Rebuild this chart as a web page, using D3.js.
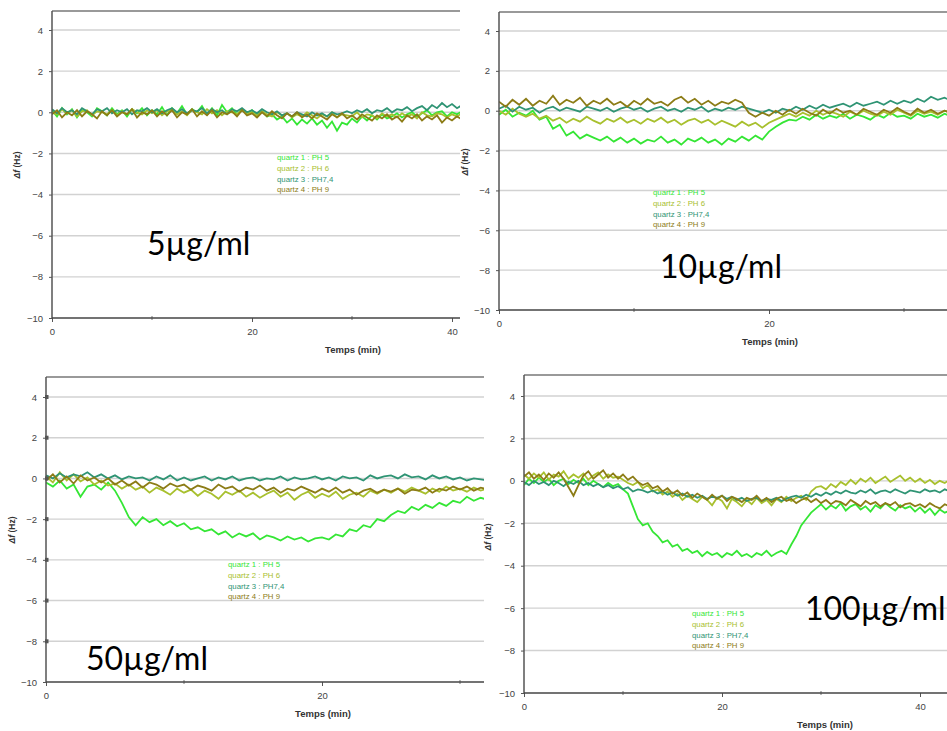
<!DOCTYPE html>
<html><head><meta charset="utf-8">
<script src="https://cdn.jsdelivr.net/npm/d3@7"></script>
<style>body{margin:0;background:#fff;} svg{display:block;}</style>
</head><body>
<svg id="chart" width="947" height="731"></svg>
<script>
// ---------- data ----------
const sampleStep = 0.5; // minutes between stored samples
const quartzLabels = ["quartz 1 : PH 5", "quartz 2 : PH 6", "quartz 3 : PH7,4", "quartz 4 : PH 9"];
const seriesColors = ["#35e635", "#a8c02e", "#2f9474", "#8c7c16"];
const yTicks = [4, 2, 0, -2, -4, -6, -8, -10];
const gridValues = [4, 2, 0, -2, -4, -6, -8];
const xMajorTicks = [0, 20, 40];
const xMinorTicks = [10, 30];
const concentrations = ["5µg/ml", "10µg/ml", "50µg/ml", "100µg/ml"];
const xTitle = "Temps (min)";

// Panel 1 : 5 µg/ml
const p1q1 = [0.1,-0.2,0.2,-0.1,0.15,-0.25,0.1,0,-0.2,0.2, 0.05,-0.15,0.2,-0.1,0.1,-0.2,0.15,-0.05,0.2,-0.15,
0.1,-0.1,0.25,-0.15,0.2,-0.05,0.3,-0.1,0.15,0, 0.3,-0.1,0.2,-0.15,0.35,0,0.2,-0.1,0.15,-0.05,
0.1,-0.15,0.05,-0.2,-0.1,-0.35,-0.2,-0.5,-0.3,-0.6, -0.35,-0.55,-0.3,-0.6,-0.4,-0.75,-0.45,-0.9,-0.5,-0.6,
-0.3,-0.5,-0.2,-0.4,-0.15,-0.35,-0.1,-0.3,-0.2,-0.05, -0.25,-0.1,0,-0.2,-0.05,0.1,-0.15,0,0.05,-0.2,
0,-0.1,0.05];
const p1q2 = [0,-0.1,0.15,-0.05,0.1,-0.2,0.05,0.1,-0.15,0.05, 0,-0.1,0.1,-0.15,0.05,-0.1,0.15,0,-0.1,0.1,
-0.05,0.1,-0.15,0.05,0.1,-0.1,0.05,-0.15,0.1,0, -0.1,0.15,-0.05,0.1,-0.15,0.05,0,-0.1,0.1,-0.05,
0,-0.15,0.05,-0.1,-0.2,0,-0.15,-0.05,-0.25,-0.1, -0.2,0,-0.15,-0.3,-0.1,-0.2,0,-0.25,-0.1,-0.15,
-0.2,0,-0.25,-0.1,-0.15,-0.3,-0.05,-0.2,-0.1,-0.25, -0.05,-0.2,-0.1,-0.3,0,-0.15,-0.2,-0.05,-0.1,-0.25,
-0.1,-0.2,-0.05];
const p1q3 = [0.15,-0.05,0.2,0,0.1,-0.1,0.2,0.05,-0.1,0.15, 0.05,0.2,-0.05,0.1,0,0.15,-0.1,0.1,0.05,0.2,
0,0.15,-0.05,0.1,0.2,0,0.15,-0.05,0.1,0.05, 0.2,-0.05,0.15,0,0.1,-0.1,0.15,0.05,0.2,0,
0.1,-0.05,0.15,0,-0.1,0.05,-0.15,-0.05,-0.2,0, -0.1,-0.2,0,-0.15,-0.05,-0.2,0,-0.1,-0.05,0.05,
-0.05,0.1,0,0.15,-0.05,0.1,0.05,0.2,0,0.15, 0.1,0.25,0.05,0.2,0.3,0.1,0.35,0.2,0.45,0.25,
0.4,0.2,0.35];
const p1q4 = [-0.1,0.1,-0.25,0,-0.15,0.1,-0.2,0.05,-0.1,-0.3, 0.05,-0.15,0.1,-0.2,0,-0.1,0.15,-0.25,0,-0.1,
0.1,-0.2,0.05,-0.15,0.1,-0.25,0,-0.1,0.15,-0.2, 0.05,-0.15,0.1,-0.25,0,-0.1,0.05,-0.2,0.1,-0.15,
-0.05,-0.25,0,-0.2,0.05,-0.15,-0.3,-0.05,-0.2,0, -0.25,-0.1,-0.3,-0.05,-0.2,-0.35,-0.1,-0.25,-0.05,-0.3,
-0.15,-0.35,-0.1,-0.25,-0.4,-0.15,-0.3,-0.1,-0.35,-0.2, -0.45,-0.15,-0.3,-0.1,-0.4,-0.2,-0.35,-0.15,-0.5,-0.25,
-0.4,-0.2,-0.35];

// Panel 2 : 10 µg/ml
const p2q1 = [-0.2,0.05,-0.3,-0.1,-0.25,0,-0.45,-0.3,-0.9,-0.7, -1.25,-1.05,-1.4,-1.2,-1.35,-1.5,-1.3,-1.55,-1.35,-1.6,
-1.4,-1.65,-1.45,-1.55,-1.3,-1.6,-1.45,-1.7,-1.4,-1.55, -1.35,-1.6,-1.45,-1.7,-1.4,-1.55,-1.3,-1.5,-1.25,-1.45,
-1.05,-0.8,-0.6,-0.45,-0.5,-0.3,-0.45,-0.2,-0.4,-0.25, -0.35,-0.15,-0.4,-0.2,-0.3,-0.45,-0.2,-0.35,-0.1,-0.3,
-0.25,-0.4,-0.15,-0.3,-0.2,-0.35,-0.15,-0.3];
const p2q2 = [0,-0.2,0.1,-0.15,-0.3,-0.15,-0.4,-0.25,-0.5,-0.35, -0.6,-0.4,-0.55,-0.3,-0.5,-0.65,-0.4,-0.55,-0.35,-0.6,
-0.45,-0.65,-0.4,-0.55,-0.35,-0.6,-0.45,-0.7,-0.5,-0.4, -0.6,-0.45,-0.7,-0.5,-0.65,-0.8,-0.55,-0.75,-0.6,-0.85,
-0.6,-0.45,-0.3,-0.15,-0.3,-0.1,-0.25,0,-0.2,-0.05, -0.15,-0.3,-0.05,-0.2,0,-0.15,-0.25,-0.05,-0.2,0.05,
-0.1,-0.25,0,-0.15,-0.05,-0.2,0,-0.1];
const p2q3 = [0.1,0.25,-0.05,0.2,0.05,0.15,-0.1,0.1,0.2,0, 0.15,0.05,-0.05,0.2,0.1,0,0.15,-0.05,0.1,0.2,
0.05,0.15,-0.05,0.1,0.2,0,0.1,-0.05,0.15,0.05, 0.2,-0.05,0.1,0,0.15,0.05,0.2,0.1,0,-0.1,
0.05,-0.1,0.1,0,0.2,0.05,0.25,0.1,0.3,0.15, 0.25,0.35,0.2,0.4,0.25,0.35,0.45,0.3,0.5,0.35,
0.5,0.4,0.6,0.45,0.7,0.55,0.65,0.5];
const p2q4 = [0.45,0.2,0.55,0.3,0.6,0.25,0.5,0.35,0.75,0.3, 0.55,0.4,0.65,0.25,0.5,0.35,0.6,0.3,0.45,0.2,
0.5,0.3,0.6,0.35,0.45,0.25,0.55,0.7,0.4,0.6, 0.3,0.5,0.25,0.45,0.35,0.55,0.4,-0.1,-0.3,-0.1,
-0.25,0,-0.2,0.05,-0.15,0.1,-0.1,-0.25,0.05,-0.15, 0.1,-0.1,0,-0.2,0.1,-0.05,-0.2,0.05,-0.1,0.15,
-0.05,-0.2,0.1,-0.1,0.05,-0.15,0,-0.1];

// Panel 3 : 50 µg/ml
const p3q1 = [-0.2,-0.4,-0.1,-0.5,-0.3,-0.9,-0.4,-0.3,-0.55,-0.2,
-0.6,-1.2,-1.9,-2.3,-1.9,-2.15,-2.0,-2.3,-2.1,-2.35,
-2.2,-2.5,-2.4,-2.6,-2.5,-2.75,-2.6,-2.9,-2.7,-2.85,
-2.7,-3.0,-2.8,-2.9,-3.05,-2.85,-3.0,-2.9,-3.1,-2.95,
-2.9,-3.0,-2.75,-2.85,-2.5,-2.6,-2.3,-2.4,-2.0,-2.1,
-1.8,-1.6,-1.7,-1.4,-1.55,-1.3,-1.45,-1.2,-1.35,-1.1,
-1.2,-0.9,-1.1,-0.95,-1.05];
const p3q2 = [0.1,-0.2,0.3,-0.1,0.2,-0.15,0.05,-0.3,-0.1,-0.35,
-0.25,-0.5,-0.3,-0.55,-0.4,-0.7,-0.45,-0.6,-0.8,-0.5,
-0.7,-0.55,-0.85,-0.6,-0.75,-1.0,-0.65,-0.8,-0.6,-0.9,
-0.7,-0.95,-0.75,-0.6,-0.9,-0.7,-1.05,-0.8,-0.65,-0.95,
-0.75,-0.9,-0.65,-1.0,-0.8,-0.7,-0.9,-0.6,-0.75,-0.55,
-0.7,-0.5,-0.65,-0.45,-0.6,-0.75,-0.5,-0.65,-0.4,-0.6,
-0.5,-0.65,-0.45,-0.6,-0.5];
const p3q3 = [0.15,0,0.25,0.05,0.2,0.1,0.3,0.05,0.2,0,
0.15,-0.05,0.1,0,0.05,-0.1,0.1,-0.05,0.15,-0.1,
0.05,-0.1,0,0.1,-0.1,0.05,-0.05,0.1,-0.1,0,
0.05,-0.1,0,-0.05,0.1,-0.1,0.05,-0.05,0,0.1,
-0.05,0.05,-0.1,0.1,0,0.05,-0.1,0.15,0,0.1,
0.15,0,0.2,0.05,0.1,-0.05,0.15,0,0.1,-0.05,
0.05,-0.1,0,-0.05,-0.1];
const p3q4 = [-0.1,0.2,-0.2,0.1,-0.25,0.15,-0.1,0.05,-0.2,0,
-0.3,-0.1,-0.35,-0.15,-0.45,-0.2,-0.3,-0.5,-0.25,-0.4,
-0.3,-0.55,-0.35,-0.45,-0.6,-0.3,-0.5,-0.4,-0.65,-0.45,
-0.55,-0.35,-0.6,-0.45,-0.7,-0.5,-0.6,-0.4,-0.55,-0.7,
-0.5,-0.65,-0.45,-0.7,-0.55,-0.8,-0.6,-0.5,-0.7,-0.55,
-0.65,-0.5,-0.75,-0.55,-0.6,-0.45,-0.7,-0.5,-0.6,-0.4,
-0.55,-0.4,-0.6,-0.45,-0.55];

// Panel 4 : 100 µg/ml
const p4q1 = [-0.2,0.1,-0.1,0.15,-0.05,0.1,-0.2,0,0.1,-0.15, 0.05,-0.1,0.1,-0.2,0,-0.15,-0.3,-0.1,-0.25,-0.15,
-0.4,-0.6,-1.2,-1.8,-2.1,-2.0,-2.4,-2.6,-2.9,-2.8, -3.1,-3.0,-3.3,-3.2,-3.4,-3.3,-3.55,-3.35,-3.5,-3.4,
-3.6,-3.4,-3.5,-3.3,-3.55,-3.45,-3.6,-3.4,-3.5,-3.3, -3.55,-3.4,-3.3,-3.45,-3.0,-2.6,-2.1,-1.8,-1.5,-1.3,
-1.1,-1.35,-1.15,-1.3,-1.05,-1.4,-1.2,-1.1,-1.35,-1.2, -1.45,-1.15,-1.3,-1.05,-1.25,-1.4,-1.15,-1.3,-1.2,-1.45,
-1.25,-1.5,-1.3,-1.6,-1.35,-1.5,-1.4];
const p4q2 = [0.3,0.1,0.35,0.15,0.4,0.05,0.3,0.2,0.45,0.1, 0.3,0.15,0.35,0.05,0.25,0.4,0.1,0.3,0.15,0.2,
0.05,-0.1,-0.2,-0.05,-0.35,-0.2,-0.5,-0.4,-0.65,-0.5, -0.75,-0.6,-0.9,-0.7,-0.85,-1.0,-0.75,-0.9,-1.15,-0.8,
-0.95,-1.3,-0.85,-1.0,-1.2,-0.9,-1.1,-0.8,-1.05,-0.9, -1.15,-0.85,-1.0,-0.75,-0.95,-0.8,-0.7,-0.9,-0.5,-0.3,
-0.25,-0.4,-0.15,-0.3,-0.05,-0.2,0.05,-0.15,0.1,-0.05, 0.15,-0.1,0.05,0.2,-0.05,0.1,0.25,0,0.15,-0.05,
0.1,-0.1,0.05,-0.15,0,-0.1,0.05];
const p4q3 = [-0.05,-0.2,0,-0.15,-0.05,-0.2,0,-0.1,-0.25,-0.05, -0.15,0,-0.2,-0.1,-0.25,-0.15,-0.3,-0.2,-0.35,-0.25,
-0.4,-0.3,-0.5,-0.4,-0.45,-0.55,-0.45,-0.6,-0.5,-0.65, -0.55,-0.7,-0.6,-0.75,-0.65,-0.8,-0.7,-0.85,-0.75,-0.8,
-0.7,-0.85,-0.75,-0.9,-0.8,-0.95,-0.85,-0.8,-0.95,-0.85, -0.9,-0.8,-0.95,-0.85,-0.75,-0.7,-0.8,-0.65,-0.75,-0.6,
-0.7,-0.55,-0.65,-0.5,-0.6,-0.45,-0.55,-0.6,-0.45,-0.55, -0.4,-0.6,-0.5,-0.45,-0.55,-0.4,-0.5,-0.6,-0.45,-0.5,
-0.55,-0.4,-0.5,-0.45,-0.55,-0.4,-0.5];
const p4q4 = [0.2,0.4,0.1,0.3,0.05,0.35,0.15,0.4,0.1,-0.3, -0.7,-0.2,0.25,0.45,0.1,0.3,0.5,0.15,0.35,0.1,
0.3,0.05,0.2,-0.05,-0.2,-0.1,-0.35,-0.25,-0.5,-0.35, -0.6,-0.45,-0.7,-0.55,-0.8,-0.6,-0.75,-0.9,-0.65,-0.85,
-0.7,-0.95,-0.75,-0.85,-1.0,-0.8,-0.9,-0.7,-0.95,-0.8, -1.0,-0.85,-0.75,-0.95,-0.85,-1.05,-0.9,-0.8,-1.0,-0.85,
-1.05,-0.9,-1.1,-0.95,-1.0,-1.15,-0.9,-1.05,-1.2,-0.95, -1.1,-1.0,-1.2,-1.05,-1.15,-1.0,-1.25,-1.1,-1.05,-1.2,
-1.1,-1.25,-1.05,-1.2,-1.3,-1.1,-1.2];

// ---------- layout ----------
const layouts = [
  {x0:52,  x20:252, y4:30,  y10:318, top:11,  right:460, legX:277, legY:160, concX:147, concY:255, xtX:353, ytX:20,  ytY:165, squares:false, series:[p1q1,p1q2,p1q3,p1q4]},
  {x0:499, x20:769, y4:31,  y10:310, top:12,  right:947, legX:653, legY:195, concX:660, concY:278, xtX:770, ytX:468, ytY:162, squares:false, series:[p2q1,p2q2,p2q3,p2q4]},
  {x0:46,  x20:322, y4:397, y10:682, top:377, right:484, legX:228, legY:567, concX:86,  concY:670, xtX:323, ytX:15,  ytY:530, squares:true,  series:[p3q1,p3q2,p3q3,p3q4]},
  {x0:524, x20:722, y4:396, y10:693, top:375, right:947, legX:692, legY:616, concX:805, concY:620, xtX:825, ytX:491, ytY:537, squares:false, series:[p4q1,p4q2,p4q3,p4q4]}
];

const svg = d3.select("#chart");
const tickFont = "Liberation Sans, Arial, sans-serif";

layouts.forEach((L, pi) => {
  const g = svg.append("g");
  const x = d3.scaleLinear().domain([0, 20]).range([L.x0, L.x20]);
  const y = d3.scaleLinear().domain([-10, 4]).range([L.y10, L.y4]);
  const tMax = x.invert(L.right);
  const clipId = "clip" + pi;
  g.append("clipPath").attr("id", clipId).append("rect")
    .attr("x", L.x0).attr("y", L.top).attr("width", L.right - L.x0).attr("height", L.y10 - L.top);

  // grid
  g.append("g").selectAll("line").data(gridValues).join("line")
    .attr("x1", L.x0).attr("x2", L.right).attr("y1", d => y(d)).attr("y2", d => y(d))
    .attr("stroke", "#d2d2d2").attr("stroke-width", 1.4);
  // top border
  g.append("line").attr("x1", L.x0).attr("x2", L.right).attr("y1", L.top).attr("y2", L.top)
    .attr("stroke", "#777").attr("stroke-width", 1.5);

  // series
  const line = d3.line().x((d, i) => x(i * sampleStep)).y(d => y(d));
  const sg = g.append("g").attr("clip-path", `url(#${clipId})`);
  L.series.forEach((vals, si) => {
    sg.append("path").attr("d", line(vals)).attr("fill", "none")
      .attr("stroke", seriesColors[si]).attr("stroke-width", 1.8).attr("stroke-linejoin", "miter");
  });

  // y axis
  const ya = g.append("g").attr("transform", `translate(${L.x0},0)`)
    .call(d3.axisLeft(y).tickValues(yTicks).tickSize(3).tickPadding(6));
  ya.select(".domain").remove();
  ya.selectAll("text").attr("font-family", tickFont).attr("font-size", 9.5).attr("fill", "#444");
  ya.selectAll(".tick line").attr("stroke", "#555");
  if (L.squares) {
    g.append("g").selectAll("rect").data(yTicks.slice(0, -1)).join("rect")
      .attr("x", L.x0 - 1).attr("y", d => y(d) - 2).attr("width", 3.5).attr("height", 4).attr("fill", "#555");
  }
  g.append("line").attr("x1", L.x0).attr("x2", L.x0).attr("y1", L.top).attr("y2", L.y10)
    .attr("stroke", "#555").attr("stroke-width", 1.5);

  // x axis
  const xa = g.append("g").attr("transform", `translate(0,${L.y10})`)
    .call(d3.axisBottom(x).tickValues(xMajorTicks.filter(t => t <= tMax)).tickSize(4).tickPadding(6));
  xa.select(".domain").remove();
  xa.selectAll("text").attr("font-family", tickFont).attr("font-size", 9.5).attr("fill", "#444");
  xa.selectAll(".tick line").attr("stroke", "#555");
  g.append("g").selectAll("line").data(xMinorTicks.filter(t => t <= tMax)).join("line")
    .attr("x1", d => x(d)).attr("x2", d => x(d)).attr("y1", L.y10 - 2).attr("y2", L.y10 + 2)
    .attr("stroke", "#777");
  g.append("line").attr("x1", L.x0).attr("x2", L.right).attr("y1", L.y10).attr("y2", L.y10)
    .attr("stroke", "#444").attr("stroke-width", 1.5);

  // axis titles
  g.append("text").attr("x", L.xtX).attr("y", L.y10 + 35).attr("text-anchor", "middle")
    .attr("font-family", tickFont).attr("font-size", 9.5).attr("font-weight", "bold").attr("fill", "#333")
    .text(xTitle);
  const yt = g.append("text").attr("transform", `translate(${L.ytX},${L.ytY}) rotate(-90)`)
    .attr("text-anchor", "middle").attr("font-family", tickFont).attr("font-size", 8.5)
    .attr("font-weight", "bold").attr("fill", "#333");
  yt.append("tspan").attr("font-style", "italic").text("Δf");
  yt.append("tspan").text(" (Hz)");

  // legend
  g.append("g").selectAll("text").data(quartzLabels).join("text")
    .attr("x", L.legX).attr("y", (d, i) => L.legY + i * 10.8)
    .attr("font-family", tickFont).attr("font-size", 7.8).attr("fill", (d, i) => seriesColors[i])
    .text(d => d);

  // concentration label
  g.append("text").attr("x", L.concX).attr("y", L.concY)
    .attr("font-family", "Lato, 'Open Sans', sans-serif").attr("font-size", 32).attr("fill", "#000")
    .text(concentrations[pi]);
});
</script>
</body></html>
